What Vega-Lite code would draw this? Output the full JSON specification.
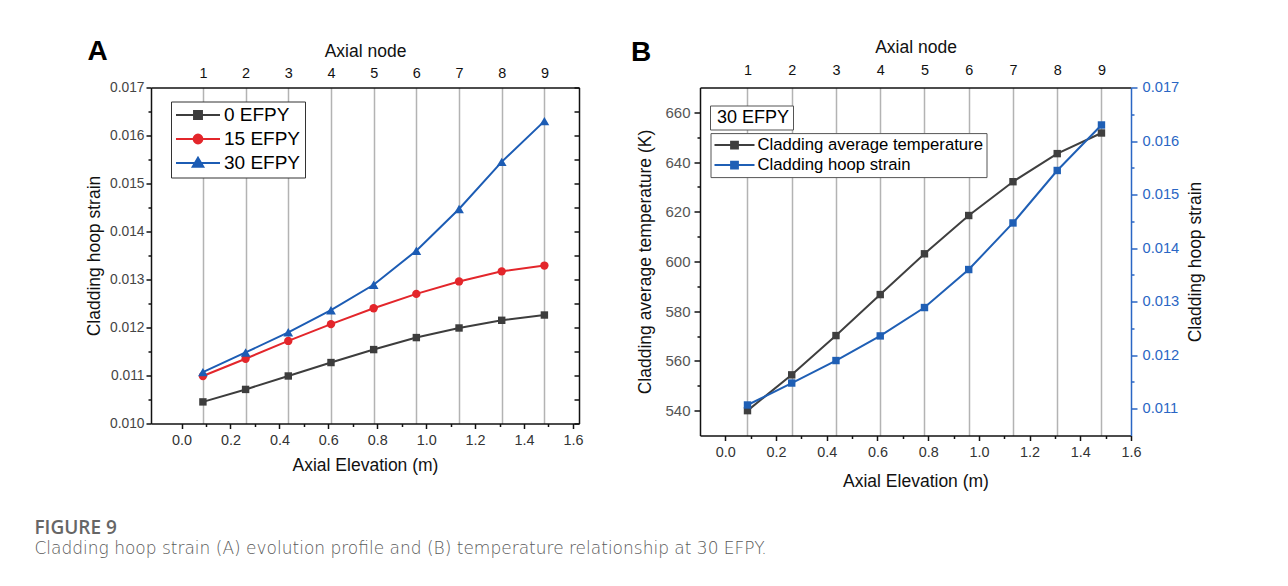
{
  "$schema": "https://vega.github.io/schema/vega-lite/v6.json",
  "background": "white",
  "padding": {"left": 34, "top": 37.5, "right": 5, "bottom": 5},
  "spacing": 47,
  "resolve": {"scale": {"fill": "independent", "stroke": "independent", "shape": "independent", "size": "independent"}},
  "title": {
    "text": "FIGURE 9",
    "subtitle": "Cladding hoop strain (A) evolution profile and (B) temperature relationship at 30 EFPY.",
    "orient": "bottom",
    "anchor": "start",
    "frame": "bounds",
    "offset": 29,
    "dx": -51,
    "font": "Open Sans",
    "fontSize": 19,
    "fontWeight": 600,
    "color": "#666666",
    "subtitleFont": "DejaVu Sans",
    "subtitleFontSize": 17,
    "subtitleFontWeight": 200,
    "subtitleColor": "#5a5a5a",
    "subtitlePadding": 3
  },
  "datasets": {
    "evolution": [
      {"node": 1, "elev": 0.0873, "series": "0 EFPY", "strain": 0.01045},
      {"node": 2, "elev": 0.2618, "series": "0 EFPY", "strain": 0.01071},
      {"node": 3, "elev": 0.4363, "series": "0 EFPY", "strain": 0.01099},
      {"node": 4, "elev": 0.6109, "series": "0 EFPY", "strain": 0.01127},
      {"node": 5, "elev": 0.7854, "series": "0 EFPY", "strain": 0.01154},
      {"node": 6, "elev": 0.9599, "series": "0 EFPY", "strain": 0.01179},
      {"node": 7, "elev": 1.1345, "series": "0 EFPY", "strain": 0.01199},
      {"node": 8, "elev": 1.309, "series": "0 EFPY", "strain": 0.01215},
      {"node": 9, "elev": 1.4835, "series": "0 EFPY", "strain": 0.01226},
      {"node": 1, "elev": 0.0873, "series": "15 EFPY", "strain": 0.01099},
      {"node": 2, "elev": 0.2618, "series": "15 EFPY", "strain": 0.01135},
      {"node": 3, "elev": 0.4363, "series": "15 EFPY", "strain": 0.01172},
      {"node": 4, "elev": 0.6109, "series": "15 EFPY", "strain": 0.01207},
      {"node": 5, "elev": 0.7854, "series": "15 EFPY", "strain": 0.0124},
      {"node": 6, "elev": 0.9599, "series": "15 EFPY", "strain": 0.0127},
      {"node": 7, "elev": 1.1345, "series": "15 EFPY", "strain": 0.01296},
      {"node": 8, "elev": 1.309, "series": "15 EFPY", "strain": 0.01317},
      {"node": 9, "elev": 1.4835, "series": "15 EFPY", "strain": 0.01329},
      {"node": 1, "elev": 0.0873, "series": "30 EFPY", "strain": 0.01107},
      {"node": 2, "elev": 0.2618, "series": "30 EFPY", "strain": 0.01148},
      {"node": 3, "elev": 0.4363, "series": "30 EFPY", "strain": 0.0119},
      {"node": 4, "elev": 0.6109, "series": "30 EFPY", "strain": 0.01236},
      {"node": 5, "elev": 0.7854, "series": "30 EFPY", "strain": 0.01289},
      {"node": 6, "elev": 0.9599, "series": "30 EFPY", "strain": 0.0136},
      {"node": 7, "elev": 1.1345, "series": "30 EFPY", "strain": 0.01447},
      {"node": 8, "elev": 1.309, "series": "30 EFPY", "strain": 0.01545},
      {"node": 9, "elev": 1.4835, "series": "30 EFPY", "strain": 0.0163}
    ],
    "profile30": [
      {"node": 1, "elev": 0.0873, "efpy": "30 EFPY", "temperature": 540.0, "strain": 0.01107},
      {"node": 2, "elev": 0.2618, "efpy": "30 EFPY", "temperature": 554.4, "strain": 0.01148},
      {"node": 3, "elev": 0.4363, "efpy": "30 EFPY", "temperature": 570.2, "strain": 0.0119},
      {"node": 4, "elev": 0.6109, "efpy": "30 EFPY", "temperature": 586.7, "strain": 0.01236},
      {"node": 5, "elev": 0.7854, "efpy": "30 EFPY", "temperature": 603.1, "strain": 0.01289},
      {"node": 6, "elev": 0.9599, "efpy": "30 EFPY", "temperature": 618.5, "strain": 0.0136},
      {"node": 7, "elev": 1.1345, "efpy": "30 EFPY", "temperature": 632.1, "strain": 0.01447},
      {"node": 8, "elev": 1.309, "efpy": "30 EFPY", "temperature": 643.4, "strain": 0.01545},
      {"node": 9, "elev": 1.4835, "efpy": "30 EFPY", "temperature": 651.7, "strain": 0.0163}
    ]
  },
  "hconcat": [
    {
      "width": 428,
      "height": 336,
      "title": {"text": "A", "anchor": "start", "frame": "bounds", "font": "Liberation Sans", "fontSize": 28, "fontWeight": "bold", "color": "#000000", "dx": 2, "dy": 24, "offset": 0},
      "data": {"name": "evolution"},
      "resolve": {"axis": {"x": "independent", "y": "independent"}},
      "layer": [
        {
          "mark": {"type": "line", "strokeWidth": 2},
          "encoding": {
            "x": {"field": "elev", "type": "quantitative", "scale": {"domain": [-0.125, 1.625], "nice": false, "zero": false},
              "axis": {"orient": "bottom", "values": [0, 0.2, 0.4, 0.6, 0.8, 1, 1.2, 1.4, 1.6], "format": ".1f", "title": "Axial Elevation (m)", "tickSize": 5, "labelPadding": 5, "titlePadding": 10, "labelFontSize": 14.4, "labelColor": "#333333"}},
            "y": {"field": "strain", "type": "quantitative", "scale": {"domain": [0.01, 0.017], "nice": false, "zero": false},
              "axis": {"orient": "left", "values": [0.01, 0.011, 0.012, 0.013, 0.014, 0.015, 0.016, 0.017], "format": ".3f", "title": "Cladding hoop strain", "tickSize": 5, "labelPadding": 2, "titlePadding": 6, "labelFontSize": 13.8, "labelColor": "#444444"}},
            "color": {"field": "series", "type": "nominal", "scale": {"domain": ["0 EFPY", "15 EFPY", "30 EFPY"], "range": ["#3d3d3d", "#e3262b", "#1c5cb4"]}, "legend": null}
          }
        },
        {
          "transform": [{"filter": "datum.series == '0 EFPY'"}],
          "mark": {"type": "point", "shape": "square", "filled": true, "size": 55, "opacity": 1},
          "encoding": {
            "x": {"field": "elev", "type": "quantitative", "scale": {"domain": [-0.125, 1.625], "nice": false, "zero": false},
              "axis": {"orient": "bottom", "values": [0.1, 0.3, 0.5, 0.7, 0.9, 1.1, 1.3, 1.5], "labels": false, "domain": false, "tickSize": 3, "title": null}},
            "y": {"field": "strain", "type": "quantitative", "scale": {"domain": [0.01, 0.017], "nice": false, "zero": false},
              "axis": {"orient": "left", "values": [0.0105, 0.0115, 0.0125, 0.0135, 0.0145, 0.0155, 0.0165], "labels": false, "domain": false, "tickSize": 3, "title": null}},
            "color": {"field": "series", "type": "nominal", "legend": null}
          }
        },
        {
          "transform": [{"filter": "datum.series == '15 EFPY'"}],
          "mark": {"type": "point", "shape": "circle", "filled": true, "size": 70, "opacity": 1},
          "encoding": {
            "x": {"field": "elev", "type": "quantitative", "scale": {"domain": [-0.125, 1.625], "nice": false, "zero": false},
              "axis": {"orient": "top", "values": [0.0873, 0.2618, 0.4363, 0.6109, 0.7854, 0.9599, 1.1345, 1.309, 1.4835], "labelExpr": "'' + round(datum.value / 0.17453 + 0.5)", "grid": true, "gridColor": "#b3b3b3", "gridWidth": 1.5, "ticks": false, "tickSize": 0, "labelPadding": 7, "labelFontSize": 14.4, "labelColor": "#111111", "title": "Axial node", "titlePadding": 5.5}},
            "y": {"field": "strain", "type": "quantitative", "scale": {"domain": [0.01, 0.017], "nice": false, "zero": false},
              "axis": {"orient": "right", "values": [0.01, 0.0105, 0.011, 0.0115, 0.012, 0.0125, 0.013, 0.0135, 0.014, 0.0145, 0.015, 0.0155, 0.016, 0.0165, 0.017], "labels": false, "tickSize": -5, "title": null}},
            "color": {"field": "series", "type": "nominal", "legend": null}
          }
        },
        {
          "transform": [{"filter": "datum.series == '30 EFPY'"}],
          "mark": {"type": "point", "shape": "triangle-up", "filled": true, "size": 95, "opacity": 1},
          "encoding": {
            "x": {"field": "elev", "type": "quantitative", "scale": {"domain": [-0.125, 1.625], "nice": false, "zero": false}, "axis": null},
            "y": {"field": "strain", "type": "quantitative", "scale": {"domain": [0.01, 0.017], "nice": false, "zero": false}, "axis": null},
            "color": {"field": "series", "type": "nominal", "legend": null}
          }
        },
        {
          "transform": [{"filter": "datum.elev < 0"}],
          "mark": {"type": "point", "filled": true, "opacity": 1},
          "encoding": {
            "x": {"field": "elev", "type": "quantitative", "scale": {"domain": [-0.125, 1.625], "nice": false, "zero": false}, "axis": null},
            "y": {"field": "strain", "type": "quantitative", "scale": {"domain": [0.01, 0.017], "nice": false, "zero": false}, "axis": null},
            "fill": {"field": "series", "type": "nominal", "scale": {"domain": ["0 EFPY", "15 EFPY", "30 EFPY"], "range": ["#3d3d3d", "#e3262b", "#1c5cb4"]},
              "legend": {"orient": "none", "legendX": 20, "legendY": 14, "title": null, "labelFont": "Liberation Sans", "labelFontSize": 19, "labelColor": "#000000", "labelLimit": 300, "symbolSize": 1936, "symbolStrokeWidth": 2, "symbolOpacity": 1, "strokeColor": "#333333", "fillColor": "#ffffff", "padding": 4, "clipHeight": 19, "rowPadding": 4, "labelOffset": 3}},
            "stroke": {"field": "series", "type": "nominal", "scale": {"domain": ["0 EFPY", "15 EFPY", "30 EFPY"], "range": ["#3d3d3d", "#e3262b", "#1c5cb4"]}, "legend": {}},
            "shape": {"field": "series", "type": "nominal", "scale": {"domain": ["0 EFPY", "15 EFPY", "30 EFPY"], "range": ["M-1,0H1M-0.18,-0.18H0.18V0.18H-0.18Z", "M-1,0H1M0.2,0A0.2,0.2,0,1,1,-0.2,0A0.2,0.2,0,1,1,0.2,0Z", "M-1,0H1M0,-0.24L0.24,0.17H-0.24Z"]}, "legend": {}}
          }
        }
      ]
    },
    {
      "width": 431,
      "height": 348,
      "title": {"text": "B", "anchor": "start", "frame": "bounds", "font": "Liberation Sans", "fontSize": 28, "fontWeight": "bold", "color": "#000000", "dx": -6, "dy": 28, "offset": 0},
      "data": {"name": "profile30"},
      "resolve": {"scale": {"y": "independent"}, "axis": {"x": "independent", "y": "independent"}},
      "layer": [
        {
          "mark": {"type": "line", "color": "#3f3f3f", "strokeWidth": 2, "point": {"shape": "square", "filled": true, "size": 55, "color": "#3f3f3f", "opacity": 1}},
          "encoding": {
            "x": {"field": "elev", "type": "quantitative", "scale": {"domain": [-0.1, 1.6], "nice": false, "zero": false},
              "axis": {"orient": "bottom", "values": [0, 0.2, 0.4, 0.6, 0.8, 1, 1.2, 1.4, 1.6], "format": ".1f", "title": "Axial Elevation (m)", "tickSize": 5, "labelPadding": 5, "titlePadding": 14, "labelFontSize": 14.4, "labelColor": "#333333"}},
            "y": {"field": "temperature", "type": "quantitative", "scale": {"domain": [530, 670], "nice": false, "zero": false},
              "axis": {"orient": "left", "values": [540, 560, 580, 600, 620, 640, 660], "title": "Cladding average temperature (K)", "tickSize": 6, "labelPadding": 4, "titlePadding": 10, "labelFontSize": 15, "labelColor": "#555555"}}
          }
        },
        {
          "mark": {"type": "line", "color": "#1f5fb5", "strokeWidth": 2, "point": {"shape": "square", "filled": true, "size": 55, "color": "#1f5fb5", "opacity": 1}},
          "encoding": {
            "x": {"field": "elev", "type": "quantitative", "scale": {"domain": [-0.1, 1.6], "nice": false, "zero": false},
              "axis": {"orient": "bottom", "values": [0.1, 0.3, 0.5, 0.7, 0.9, 1.1, 1.3, 1.5], "labels": false, "domain": false, "tickSize": 3, "title": null}},
            "y": {"field": "strain", "type": "quantitative", "scale": {"domain": [0.0105, 0.017], "nice": false, "zero": false},
              "axis": {"orient": "right", "values": [0.011, 0.012, 0.013, 0.014, 0.015, 0.016, 0.017], "format": ".3f", "title": "Cladding hoop strain", "titleAngle": 270, "titleBaseline": "top", "tickSize": 6, "labelPadding": 5, "titlePadding": 8, "labelFontSize": 14.7, "labelColor": "#2a66c4", "domainColor": "#2a66c4", "tickColor": "#2a66c4"}}
          }
        },
        {
          "transform": [{"filter": "datum.elev < 0"}],
          "mark": {"type": "point", "filled": true, "opacity": 1},
          "encoding": {
            "x": {"field": "elev", "type": "quantitative", "scale": {"domain": [-0.1, 1.6], "nice": false, "zero": false},
              "axis": {"orient": "top", "values": [0.0873, 0.2618, 0.4363, 0.6109, 0.7854, 0.9599, 1.1345, 1.309, 1.4835], "labelExpr": "'' + round(datum.value / 0.17453 + 0.5)", "grid": true, "gridColor": "#b3b3b3", "gridWidth": 1.5, "ticks": false, "tickSize": 0, "labelPadding": 10.5, "labelFontSize": 14.4, "labelColor": "#111111", "title": "Axial node", "titlePadding": 5.5}},
            "y": {"field": "temperature", "type": "quantitative", "scale": {"domain": [530, 670], "nice": false, "zero": false},
              "axis": {"orient": "left", "values": [550, 570, 590, 610, 630, 650], "labels": false, "domain": false, "tickSize": 3, "title": null}},
            "size": {"field": "efpy", "type": "nominal", "scale": {"type": "ordinal", "domain": ["30 EFPY"], "range": [1]},
              "legend": {"orient": "none", "legendX": 10, "legendY": 18, "title": null, "labelFont": "Liberation Sans", "labelFontSize": 18, "labelColor": "#000000", "labelLimit": 300, "symbolOpacity": 0, "symbolStrokeWidth": 0, "strokeColor": "#555555", "fillColor": "#ffffff", "padding": 3, "clipHeight": 18, "labelOffset": -14}},
            "fill": {"field": "series", "type": "nominal", "scale": {"domain": ["Cladding average temperature", "Cladding hoop strain"], "range": ["#3f3f3f", "#1f5fb5"]},
              "legend": {"orient": "none", "legendX": 10.5, "legendY": 45.6, "title": null, "labelFont": "Liberation Sans", "labelFontSize": 16.7, "labelColor": "#000000", "labelLimit": 400, "symbolSize": 1600, "symbolStrokeWidth": 2, "symbolOpacity": 1, "strokeColor": "#555555", "fillColor": "#ffffff", "padding": 3, "clipHeight": 18, "rowPadding": 2, "labelOffset": 2}},
            "stroke": {"field": "series", "type": "nominal", "scale": {"domain": ["Cladding average temperature", "Cladding hoop strain"], "range": ["#3f3f3f", "#1f5fb5"]}, "legend": {}},
            "shape": {"field": "series", "type": "nominal", "scale": {"domain": ["Cladding average temperature", "Cladding hoop strain"], "range": ["M-1,0H1M-0.17,-0.17H0.17V0.17H-0.17Z", "M-1,0H1M-0.17,-0.17H0.17V0.17H-0.17Z"]}, "legend": {}}
          }
        },
        {
          "transform": [{"filter": "datum.elev < 0"}],
          "mark": {"type": "point"},
          "encoding": {
            "x": {"field": "elev", "type": "quantitative", "scale": {"domain": [-0.1, 1.6], "nice": false, "zero": false}, "axis": null},
            "y": {"field": "strain", "type": "quantitative", "scale": {"domain": [0.0105, 0.017], "nice": false, "zero": false},
              "axis": {"orient": "right", "values": [0.0115, 0.0125, 0.0135, 0.0145, 0.0155, 0.0165], "labels": false, "domain": false, "tickSize": 3, "tickColor": "#2a66c4", "title": null}}
          }
        }
      ]
    }
  ],
  "config": {
    "view": {"stroke": null},
    "axis": {
      "grid": false,
      "labelFont": "Liberation Sans",
      "titleFont": "Liberation Sans",
      "titleFontWeight": "normal",
      "titleFontSize": 17.5,
      "titleColor": "#111111",
      "labelColor": "#333333",
      "domainColor": "#111111",
      "tickColor": "#111111",
      "domainWidth": 1.5,
      "tickWidth": 1.5,
      "labelFlush": false,
      "labelOverlap": false
    },
    "legend": {"labelFont": "Liberation Sans"}
  }
}
